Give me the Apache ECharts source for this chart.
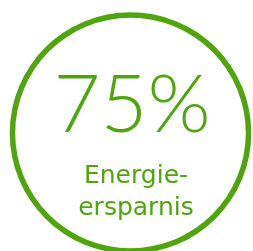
<!DOCTYPE html>
<html>
<head>
<meta charset="utf-8">
<script src="https://cdn.jsdelivr.net/npm/echarts@6/dist/echarts.min.js"></script>
<style>
  html, body { margin: 0; padding: 0; background: #fff; }
  #chart { width: 253px; height: 251px; }
</style>
</head>
<body>
<div id="chart"></div>
<script>
const ringValues = [100];
const percentLabel = ['75%'];
const captionLines = ['Energie-', 'ersparnis'];
const green = '#50a50c';

const chart = echarts.init(document.getElementById('chart'));
const option = {
  animation: false,
  series: [{
    type: 'pie',
    silent: true,
    center: [130.5, 133],
    radius: [115.3, 120.8],
    label: { show: false },
    labelLine: { show: false },
    itemStyle: { color: green, borderWidth: 0, borderRadius: 0 },
    emphasis: { disabled: true },
    data: ringValues.map(v => ({ value: v }))
  }],
  graphic: [
    {
      type: 'text',
      x: 132,
      y: 106,
      style: {
        text: percentLabel[0],
        fill: green,
        font: '300 81px Lato',
        align: 'center',
        verticalAlign: 'middle'
      }
    },
    {
      type: 'text',
      x: 136,
      y: 192,
      style: {
        text: captionLines.join('\n'),
        fill: green,
        font: '25px "DejaVu Sans"',
        lineHeight: 32,
        align: 'center',
        verticalAlign: 'middle'
      }
    }
  ]
};
chart.setOption(option);
</script>
</body>
</html>
